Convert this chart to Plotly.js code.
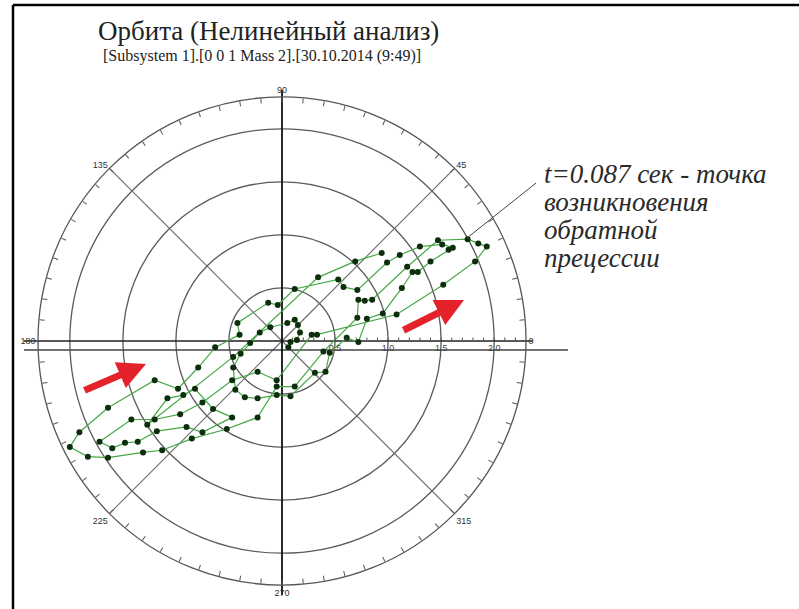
<!DOCTYPE html>
<html>
<head>
<meta charset="utf-8">
<script src="https://cdn.plot.ly/plotly-3.0.1.min.js"></script>
<style>
  html, body { margin: 0; padding: 0; background: #fff; }
  #chart { width: 799px; height: 609px; }
</style>
</head>
<body>
<div id="chart"></div>
<script>
// Shaft centre orbit, horizontal (X) and vertical (Y) displacement, in time order
const orbitX = [0.06, 0.08, 0.14, 0.17, 0.15, 0.12, 0.05, -0.11, -0.21, -0.30, -0.39, -0.46, -0.44, -0.35, -0.23, -0.05, 0.08, 0.31, 0.41, 0.45,
  0.61, 0.72, 0.80, 0.95, 1.13, 1.23, 1.28, 1.40, 1.57, 1.61, 1.51, 1.30, 1.11, 0.99, 0.71, 0.58, 0.53, 0.12, -0.04, -0.13,
  -0.42, -0.40, -0.63, -0.79, -0.98, -1.20, -1.64, -1.91, -2.00, -1.83, -1.64, -1.31, -1.13, -0.85, -0.52, -0.23, -0.05, 0.12, 0.39, 0.71,
  0.72, 0.78, 0.85, 1.18, 1.47, 1.75, 1.85, 1.93, 1.82, 1.52, 1.08, 0.33, 0.28, -0.05, -0.23, -0.47, -0.75, -0.96, -1.20, -1.42,
  -1.72, -1.60, -1.48, -1.36, -1.18, -0.90, -0.75, -0.47, -0.65, -0.82, -0.93, -1.08, -1.27, -0.46, 0.34, 0.69, 0.94];
const orbitY = [-0.06, -0.01, 0.01, 0.08, 0.15, 0.20, 0.17, 0.13, 0.08, -0.02, -0.12, -0.25, -0.46, -0.53, -0.54, -0.51, -0.52, -0.30, -0.29, -0.11,
  0.03, -0.01, 0.21, 0.26, 0.50, 0.65, 0.65, 0.75, 0.86, 0.88, 0.91, 0.89, 0.81, 0.74, 0.48, 0.51, 0.58, 0.49, 0.34, 0.36,
  0.17, 0.06, -0.06, -0.25, -0.45, -0.37, -0.63, -0.86, -1.00, -1.09, -1.10, -1.05, -1.03, -0.92, -0.83, -0.72, -0.43, -0.43, -0.10, 0.22,
  0.39, 0.38, 0.39, 0.70, 0.95, 0.96, 0.92, 0.89, 0.75, 0.53, 0.25, 0.06, 0.06, -0.37, -0.29, -0.37, -0.58, -0.69, -0.74, -0.74,
  -0.95, -1.01, -0.96, -0.95, -0.85, -0.81, -0.86, -0.72, -0.64, -0.45, -0.51, -0.54, -0.79, -0.15, 0.60, 0.75, 0.83];

// Polar grid
const ringRadii = [0.5, 1.0, 1.5, 2.0];
const ringLabels = ['0.5', '1.0', '1.5', '2.0'];
const outerRadius = 2.3;
const angleTicks = [0, 45, 90, 135, 180, 225, 270, 315];
const angleLabels = ['0', '45', '90', '135', '180', '225', '270', '315'];

// Texts
const titleText = 'Орбита (Нелинейный анализ)';
const subtitleText = '[Subsystem 1].[0 0 1 Mass 2].[30.10.2014 (9:49)]';
const noteLines = ['t=0.087 сек - точка', 'возникновения', 'обратной', 'прецессии'];

// ---- geometry of the page ----
const W = 799, H = 609;
const CX = 282, CY = 341, R = 244;
const K = R / outerRadius;               // pixels per unit
const ux = px => (px - CX) / K;          // page pixel -> data x
const uy = py => (CY - py) / K;          // page pixel -> data y
const pxX = px => px / W;                // page pixel -> paper x
const pxY = py => 1 - py / H;            // page pixel -> paper y

// fine ticks on the outer circle (every 5 deg) and on the radial axis (every 0.1)
const angVals = [], angText = [];
for (let a = 0; a < 360; a += 5) {
  angVals.push(a);
  const i = angleTicks.indexOf(a);
  angText.push(i >= 0 ? angleLabels[i] : '');
}
const radVals = [], radText = [];
for (let i = 1; i <= 22; i++) {
  const r = i / 10;
  radVals.push(r);
  const j = ringRadii.findIndex(v => Math.abs(v - r) < 1e-9);
  radText.push(j >= 0 ? ringLabels[j] : '');
}

const shapes = [];
// range rings
ringRadii.forEach(r => shapes.push({
  type: 'circle', xref: 'x', yref: 'y', x0: -r, y0: -r, x1: r, y1: r,
  line: { color: '#5a5a5a', width: 1.3 }, layer: 'below'
}));
// diagonal spokes
[45, 135, 225, 315].forEach(a => {
  const t = a * Math.PI / 180;
  shapes.push({
    type: 'line', xref: 'x', yref: 'y', x0: 0, y0: 0,
    x1: outerRadius * Math.cos(t), y1: outerRadius * Math.sin(t),
    line: { color: '#6a6a6a', width: 1.1 }, layer: 'below'
  });
});
// main axes
shapes.push({ type: 'line', xref: 'x', yref: 'y', x0: ux(24), x1: ux(533), y0: 0, y1: 0,
  line: { color: '#222', width: 1.6 }, layer: 'below' });
shapes.push({ type: 'line', xref: 'x', yref: 'y', x0: ux(24), x1: ux(568), y0: uy(350), y1: uy(350),
  line: { color: '#444', width: 1.6 }, layer: 'below' });
shapes.push({ type: 'line', xref: 'x', yref: 'y', x0: 0, x1: 0, y0: uy(90), y1: uy(595),
  line: { color: '#111', width: 1.8 }, layer: 'below' });
// leader line of the note
shapes.push({ type: 'line', xref: 'x', yref: 'y', x0: ux(467), y0: uy(238), x1: ux(536), y1: uy(183),
  line: { color: '#444', width: 1 } });
// frame edges
shapes.push({ type: 'line', xref: 'paper', yref: 'paper', x0: pxX(13), x1: 1, y0: pxY(5), y1: pxY(5),
  line: { color: '#000', width: 2.5 } });
shapes.push({ type: 'line', xref: 'paper', yref: 'paper', x0: pxX(13), x1: pxX(13), y0: pxY(5), y1: 0,
  line: { color: '#000', width: 2.5 } });

const serif = 'Liberation Serif, Times New Roman, serif';
const annotations = [
  { xref: 'paper', yref: 'paper', x: pxX(268), y: pxY(31), text: titleText, showarrow: false,
    xanchor: 'center', yanchor: 'middle', font: { family: serif, size: 27, color: '#222' } },
  { xref: 'paper', yref: 'paper', x: pxX(262), y: pxY(56), text: subtitleText, showarrow: false,
    xanchor: 'center', yanchor: 'middle', font: { family: serif, size: 16, color: '#222' } },
  // direction arrows
  { xref: 'x', yref: 'y', x: ux(146), y: uy(364), ax: -63, ay: 27, text: '', showarrow: true,
    arrowhead: 2, arrowsize: 0.8, arrowwidth: 7, arrowcolor: '#e3222b', standoff: 0 },
  { xref: 'x', yref: 'y', x: ux(464), y: uy(300), ax: -62, ay: 31, text: '', showarrow: true,
    arrowhead: 2, arrowsize: 0.8, arrowwidth: 7, arrowcolor: '#e3222b', standoff: 0 }
];
const noteY = [174, 202, 230, 258];
noteLines.forEach((s, i) => annotations.push({
  xref: 'paper', yref: 'paper', x: pxX(542), y: pxY(noteY[i]), text: '<i>' + s + '</i>',
  showarrow: false, xanchor: 'left', yanchor: 'middle',
  font: { family: serif, size: 27, color: '#2a2a2a', style: 'italic' }
}));

const traces = [
  { type: 'scatterpolar', r: [], theta: [], subplot: 'polar', showlegend: false, hoverinfo: 'skip' },
  { type: 'scatter', x: orbitX, y: orbitY, xaxis: 'x', yaxis: 'y', mode: 'lines+markers',
    line: { color: '#45a845', width: 1.2 },
    marker: { size: 6, color: '#0c2e0c' },
    showlegend: false, hoverinfo: 'skip' }
];

const layout = {
  width: W, height: H,
  margin: { l: 0, r: 0, t: 0, b: 0 },
  paper_bgcolor: '#fff', plot_bgcolor: 'rgba(0,0,0,0)',
  showlegend: false,
  xaxis: { domain: [0, 1], range: [ux(0), ux(W)], visible: false, fixedrange: true },
  yaxis: { domain: [0, 1], range: [uy(H), uy(0)], visible: false, fixedrange: true },
  polar: {
    domain: { x: [(CX - R) / W, (CX + R) / W], y: [(H - CY - R) / H, (H - CY + R) / H] },
    bgcolor: 'rgba(0,0,0,0)',
    angularaxis: {
      rotation: 0, direction: 'counterclockwise',
      tickmode: 'array', tickvals: angVals, ticktext: angText,
      ticks: 'inside', ticklen: 5, tickwidth: 1, tickcolor: '#555',
      showgrid: false, showline: true, linecolor: '#555', linewidth: 1.3,
      tickfont: { family: 'Liberation Sans Narrow, Liberation Sans, Arial, sans-serif', size: 9, color: '#333' }
    },
    radialaxis: {
      range: [0, outerRadius], angle: 0, tickangle: 0,
      tickmode: 'array', tickvals: radVals, ticktext: radText,
      ticks: 'inside', ticklen: 3, tickwidth: 1, tickcolor: '#555',
      showgrid: false, showline: false,
      tickfont: { family: 'Liberation Sans Narrow, Liberation Sans, Arial, sans-serif', size: 9, color: '#444' }
    }
  },
  shapes: shapes,
  annotations: annotations
};

Plotly.newPlot('chart', traces, layout, { staticPlot: true, displayModeBar: false });
</script>
</body>
</html>
